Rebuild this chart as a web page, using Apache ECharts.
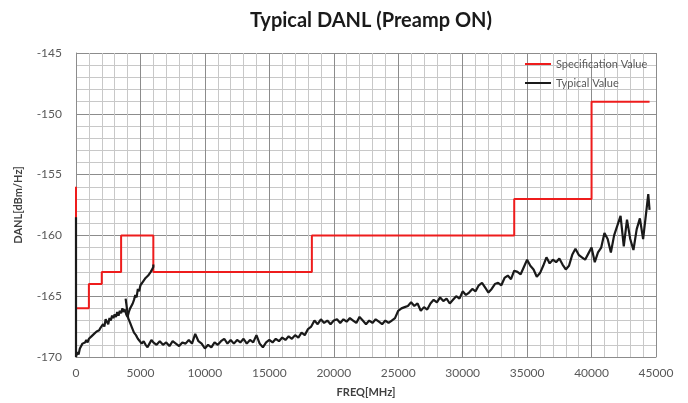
<!DOCTYPE html>
<html>
<head>
<meta charset="utf-8">
<script src="https://cdn.jsdelivr.net/npm/echarts@6/dist/echarts.min.js"></script>
<style>html,body{margin:0;padding:0;background:#fff}#c{width:688px;height:403px}</style>
</head>
<body>
<div id="c"></div>
<script>
const seriesNames = ['Specification Value', 'Typical Value'];
const xTicks = [0, 5000, 10000, 15000, 20000, 25000, 30000, 35000, 40000, 45000];
const yTicks = [-170, -165, -160, -155, -150, -145];

const specFreq = [0, 0, 1000, 1000, 2000, 2000, 3500, 3500, 6000, 6000, 18300, 18300, 34000, 34000, 40000, 40000, 44500];
const specVal  = [-156, -166, -166, -164, -164, -163, -163, -160, -160, -163, -163, -160, -160, -157, -157, -149, -149];

const typFreq1 = [0, 0, 100, 200, 300, 400, 500, 600, 700, 800, 900, 1000, 1100, 1200, 1300, 1400, 1500, 1600, 1700, 1800, 1900, 2000, 2100, 2200, 2300, 2400, 2500, 2600, 2700, 2800, 2900, 3000, 3100, 3200, 3300, 3400, 3500, 3600, 3700, 3800, 3900, 4000, 4100, 4200, 4300, 4400, 4500, 4600, 4700, 4800, 4900, 5000, 5100, 5200, 5300, 5400, 5500, 5600, 5700, 5800, 5900, 6000, 6000];
const typVal1  = [-158.5, -170, -169.6, -169.8, -169.3, -169.4, -168.9, -169.0, -168.8, -168.6, -168.8, -168.5, -168.6, -168.3, -168.4, -168.1, -168.2, -167.9, -168.0, -167.8, -167.6, -167.7, -167.3, -167.5, -166.9, -167.1, -167.3, -166.8, -167.0, -166.6, -166.8, -166.5, -166.7, -166.3, -166.6, -166.2, -166.4, -166.0, -166.3, -166.1, -166.5, -166.7, -166.3, -166.0, -165.9, -165.6, -165.3, -164.9, -165.1, -164.4, -164.6, -164.1, -164.2, -163.8, -163.9, -163.5, -163.6, -163.3, -163.2, -163.0, -162.8, -162.6, -162.4];

const typFreq2 = [3850, 3950, 4050, 4200, 4350, 4500, 4650, 4800, 4950, 5100, 5250, 5400, 5550, 5700, 5850,
  6000, 6250, 6500, 6750, 7000, 7250, 7500, 7750, 8000, 8250, 8500, 8750, 9000, 9250, 9500, 9750,
  10000, 10250, 10500, 10750, 11000, 11250, 11500, 11750, 12000, 12250, 12500, 12750, 13000, 13250, 13500, 13750,
  14000, 14250, 14500, 14750, 15000, 15250, 15500, 15750, 16000, 16250, 16500, 16750, 17000, 17250, 17500, 17750,
  18000, 18250, 18500, 18750, 19000, 19250, 19500, 19750, 20000, 20250, 20500, 20750, 21000, 21250, 21500, 21750,
  22000, 22250, 22500, 22750, 23000, 23250, 23500, 23750, 24000, 24250, 24500, 24750, 25000, 25250, 25500, 25750,
  26000, 26250, 26500, 26750, 27000, 27250, 27500, 27750, 28000, 28250, 28500, 28750, 29000, 29250, 29500, 29750,
  30000, 30250, 30500, 30750, 31000, 31250, 31500, 31750, 32000, 32250, 32500, 32750, 33000, 33250, 33500, 33750,
  34000, 34250, 34500, 34750, 35000, 35250, 35500, 35750, 36000, 36250, 36500, 36750, 37000, 37250, 37500, 37750,
  38000, 38250, 38500, 38750, 39000, 39250, 39500, 39750, 40000, 40250, 40500, 40750, 41000, 41250, 41500, 41750,
  42000, 42250, 42500, 42750, 43000, 43250, 43500, 43750, 44000, 44250, 44400, 44500];
const typVal2 = [-165.2, -166.0, -166.8, -167.2, -167.6, -168.0, -168.2, -168.5, -168.6, -168.9, -168.7, -169.0, -169.2, -168.9, -168.6,
  -168.8, -169.0, -168.7, -169.0, -168.8, -169.1, -168.7, -168.9, -169.1, -168.8, -168.9, -168.6, -168.9, -168.1, -168.7, -168.9,
  -169.3, -169.0, -169.2, -168.8, -169.0, -168.7, -168.5, -168.9, -168.6, -168.9, -168.6, -168.8, -168.5, -168.9, -168.6, -168.8,
  -168.2, -168.9, -169.2, -168.8, -168.6, -168.8, -168.5, -168.7, -168.4, -168.6, -168.3, -168.5, -168.2, -168.4, -168.0, -168.2,
  -167.7, -167.5, -167.0, -167.3, -166.9, -167.2, -167.0, -167.3, -167.0, -166.9, -167.2, -166.9, -167.1, -166.8, -167.0, -167.2,
  -166.7, -167.0, -167.3, -167.0, -167.2, -166.9, -167.1, -167.3, -167.0, -167.2, -167.0, -166.8, -166.2, -166.0, -165.9, -165.8,
  -165.5, -165.8, -165.6, -166.2, -165.9, -166.1, -165.6, -165.3, -165.5, -165.1, -165.4, -165.2, -165.6, -165.3, -165.0, -165.2,
  -164.6, -164.9, -164.7, -164.4, -164.6, -164.1, -163.9, -164.3, -164.7, -164.4, -164.0, -163.9, -164.1, -163.5, -163.3, -163.6,
  -162.9, -163.0, -163.2, -162.6, -162.0, -162.5, -162.8, -163.4, -163.1, -162.5, -161.8, -162.3, -162.0, -162.2, -161.9, -162.4,
  -162.8, -162.5, -161.6, -161.1, -161.6, -161.8, -162.0, -161.5, -161.0, -162.2, -161.4, -161.0, -159.8, -160.3, -161.4, -160.0,
  -159.2, -158.4, -160.9, -158.7, -160.3, -161.2, -159.5, -158.6, -160.3, -158.0, -156.6, -157.9];

const zip = (xs, ys) => xs.map((x, i) => [x, ys[i]]);

const chart = echarts.init(document.getElementById('c'));
const font = 'Lato, "Open Sans", sans-serif';
chart.setOption({
  animation: false,
  backgroundColor: '#fff',
  title: {
    text: 'Typical DANL (Preamp ON)',
    left: 366, top: 6, textAlign: 'center',
    textStyle: { fontFamily: font, fontSize: 20, fontWeight: 'bold', color: '#1a1a1a' }
  },
  legend: {
    data: seriesNames.map(n => ({ name: n, icon: 'rect' })),
    orient: 'vertical',
    left: 520, top: 53,
    itemWidth: 26, itemHeight: 2, itemGap: 7,
    textStyle: { fontFamily: font, fontSize: 11, color: '#595959', lineHeight: 12 }
  },
  grid: { left: 76, right: 32, top: 53, bottom: 45 },
  xAxis: {
    type: 'value', min: xTicks[0], max: xTicks[xTicks.length - 1], interval: 5000,
    name: 'FREQ[MHz]', nameLocation: 'middle', nameGap: 30,
    nameTextStyle: { fontFamily: font, fontSize: 11, fontWeight: 'bold', color: '#404040' },
    axisLine: { show: true, lineStyle: { color: '#8c8c8c', width: 1 } },
    axisTick: { show: false },
    axisLabel: { fontFamily: font, fontSize: 12, color: '#595959', margin: 10, formatter: v => String(v) },
    splitLine: { show: true, lineStyle: { color: '#8c8c8c', width: 1 } },
    minorTick: { show: false, splitNumber: 5 },
    minorSplitLine: { show: true, lineStyle: { color: '#c8c8c8', width: 1 } }
  },
  yAxis: {
    type: 'value', min: yTicks[0], max: yTicks[yTicks.length - 1], interval: 5,
    name: 'DANL[dBm/Hz]', nameLocation: 'middle', nameGap: 52,
    nameTextStyle: { fontFamily: font, fontSize: 11, fontWeight: 'bold', color: '#404040' },
    axisLine: { show: true, lineStyle: { color: '#8c8c8c', width: 1 } },
    axisTick: { show: false },
    axisLabel: { fontFamily: font, fontSize: 12, color: '#595959', margin: 14 },
    splitLine: { show: true, lineStyle: { color: '#8c8c8c', width: 1 } },
    minorTick: { show: false, splitNumber: 5 },
    minorSplitLine: { show: true, lineStyle: { color: '#c8c8c8', width: 1 } }
  },
  series: [
    {
      name: seriesNames[0], type: 'line', symbol: 'none', z: 3,
      lineStyle: { color: '#ee1c1c', width: 2 }, itemStyle: { color: '#ee1c1c' },
      data: zip(specFreq, specVal)
    },
    {
      name: seriesNames[1], type: 'line', symbol: 'none', z: 4,
      lineStyle: { color: '#1a1a1a', width: 2.2 }, itemStyle: { color: '#1a1a1a' },
      data: zip(typFreq1, typVal1)
    },
    {
      name: seriesNames[1], type: 'line', symbol: 'none', z: 4,
      lineStyle: { color: '#1a1a1a', width: 2.2 }, itemStyle: { color: '#1a1a1a' },
      data: zip(typFreq2, typVal2)
    }
  ]
});
</script>
</body>
</html>
